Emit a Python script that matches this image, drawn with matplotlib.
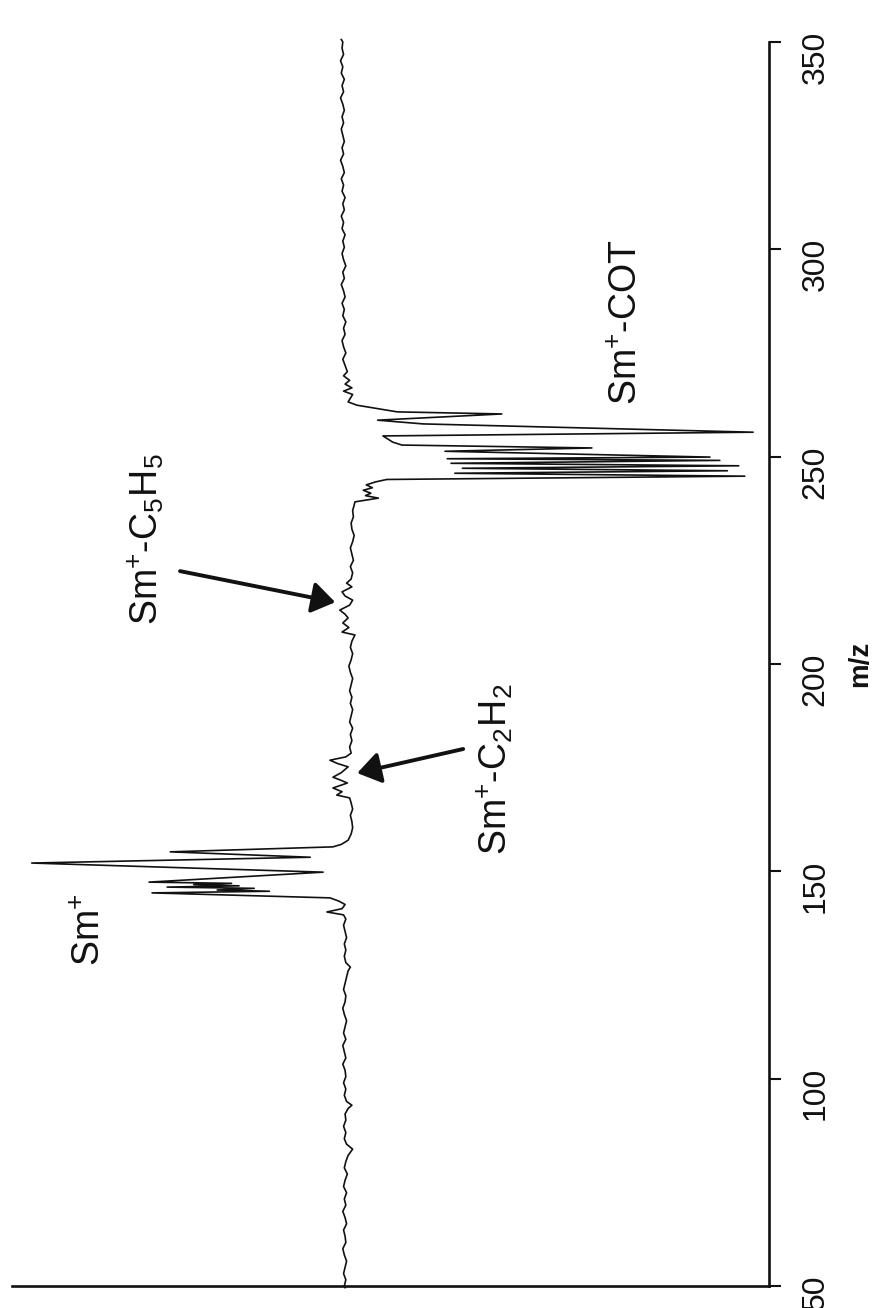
import matplotlib
matplotlib.use("Agg")
import matplotlib.pyplot as plt

plt.rcParams.update({
    "font.family": ["Liberation Sans", "DejaVu Sans"],
    "mathtext.fontset": "custom",
    "mathtext.rm": "Liberation Sans",
    "mathtext.it": "Liberation Sans:italic",
    "mathtext.bf": "Liberation Sans:bold",
})

# spectrum: (m/z, intensity in % of the axis height)
baseline_low = [
    (49.6, 56.0), (50.0, 56.1), (51.5, 55.9), (53.0, 56.2), (54.5, 56.0), (56.0, 55.8),
    (57.5, 56.1), (59.0, 56.3), (60.5, 55.9), (62.0, 56.0), (63.5, 56.2), (65.0, 55.8),
    (66.5, 56.0), (68.0, 56.3), (69.5, 55.9), (71.0, 56.1), (72.5, 55.8), (74.0, 56.2),
    (75.5, 56.0), (77.0, 55.7), (78.5, 56.1), (80.0, 55.9), (81.5, 55.6), (83.0, 55.0),
    (84.2, 55.8), (85.5, 56.1), (87.0, 55.9), (88.5, 56.2), (90.0, 55.9), (91.5, 56.0),
    (92.8, 55.6), (93.6, 55.1), (94.5, 55.8), (96.0, 56.1), (97.5, 55.9), (99.0, 56.2),
    (100.5, 55.9), (102.0, 56.0), (103.5, 56.3), (105.0, 55.9), (106.5, 56.1), (108.0, 56.3),
    (109.5, 55.9), (111.0, 56.2), (112.5, 56.0), (114.0, 55.8), (115.5, 56.1), (117.0, 56.3),
    (118.5, 56.0), (120.0, 55.9), (121.5, 56.2), (123.0, 56.0), (124.5, 55.8), (126.0, 55.6),
    (126.9, 55.3), (128.0, 55.9), (129.5, 56.1), (131.0, 55.9), (132.5, 56.1), (134.0, 55.8),
    (135.5, 56.0), (137.0, 56.2), (138.5, 55.9), (139.5, 56.2), (140.2, 58.4), (141.0, 56.4),
    (142.0, 56.0), (142.8, 56.8), (143.6, 58.0),
]
sm_cluster = [
    (144.8, 81.5), (145.2, 66.0), (145.5, 72.9), (145.9, 68.0), (146.2, 79.5), (146.5, 70.0),
    (146.8, 76.0), (147.1, 71.0), (147.4, 81.9), (149.8, 58.9), (152.0, 97.4), (153.4, 60.6),
    (154.7, 79.1), (155.9, 57.6), (156.5, 56.5),
]
baseline_mid = [
    (157.5, 55.6), (159.0, 55.2), (160.5, 55.0), (162.0, 55.1), (163.5, 55.3), (165.0, 55.0),
    (166.5, 55.2), (167.7, 55.4), (168.4, 57.1), (169.2, 56.4), (170.1, 57.6), (171.3, 55.7),
    (172.0, 56.6), (172.7, 57.6), (173.8, 56.5), (175.2, 55.6), (176.0, 57.0), (176.8, 58.0),
    (177.6, 55.9), (178.5, 55.2), (180.0, 55.4), (181.5, 55.1), (183.0, 55.3), (184.5, 55.0),
    (186.0, 55.4), (187.5, 55.2), (189.0, 55.0), (190.5, 55.3), (192.0, 55.1), (193.5, 55.4),
    (195.0, 55.2), (196.5, 55.0), (198.0, 55.3), (199.5, 55.5), (201.0, 55.2), (202.5, 55.0),
    (204.0, 55.3), (205.5, 55.1), (207.0, 54.7), (207.7, 56.4), (208.8, 55.5), (209.9, 56.3),
    (211.1, 55.6), (212.0, 56.0), (213.0, 56.7), (214.2, 55.4), (215.4, 55.0), (216.4, 56.0),
    (217.4, 56.4), (218.6, 55.1), (219.5, 55.8), (220.5, 55.2), (222.0, 55.0), (223.5, 55.3),
    (225.0, 54.9), (226.5, 55.1), (228.0, 55.3), (229.5, 55.0), (231.0, 54.8), (232.5, 55.1),
    (234.0, 55.2), (235.5, 54.9), (237.0, 55.0), (238.3, 54.8), (239.1, 54.7), (240.0, 51.6),
    (240.6, 53.3), (241.2, 52.6), (241.9, 53.6), (242.5, 52.4), (243.2, 53.2), (243.9, 52.0),
    (244.5, 50.5),
]
cot_cluster = [
    (245.3, 3.2), (246.0, 41.5), (246.6, 5.5), (247.2, 40.5), (247.8, 4.0), (248.4, 42.0),
    (249.1, 6.5), (249.5, 42.5), (249.9, 7.8), (251.3, 42.8), (252.1, 23.4), (252.8, 48.5),
    (253.5, 49.7), (255.0, 51.0), (255.9, 2.1), (257.9, 45.7), (258.8, 51.7), (260.3, 35.3),
    (260.8, 49.1), (262.4, 54.4), (263.2, 55.6), (264.1, 55.3),
]
baseline_high = [
    (265.0, 55.0), (265.8, 56.2), (266.6, 55.1), (267.5, 56.0), (268.4, 55.4), (269.5, 56.2),
    (270.5, 55.7), (272.0, 56.0), (273.5, 56.3), (275.0, 55.9), (276.5, 56.2), (278.0, 56.4),
    (279.5, 56.0), (281.0, 56.2), (282.5, 55.9), (284.0, 56.3), (285.5, 56.1), (287.0, 56.4),
    (288.5, 56.0), (290.0, 56.2), (291.5, 56.5), (293.0, 56.1), (294.5, 56.3), (296.0, 55.9),
    (297.5, 56.2), (299.0, 56.4), (300.5, 56.1), (302.0, 56.3), (303.5, 56.0), (305.0, 56.4),
    (306.5, 56.2), (308.0, 56.5), (309.5, 56.1), (311.0, 56.3), (312.5, 56.0), (314.0, 56.4),
    (315.5, 56.2), (317.0, 56.5), (318.5, 56.1), (320.0, 56.3), (321.5, 56.6), (323.0, 56.2),
    (324.5, 56.4), (326.0, 56.1), (327.5, 56.3), (329.0, 56.5), (330.5, 56.2), (332.0, 56.4),
    (333.5, 56.1), (335.0, 56.3), (336.5, 56.6), (338.0, 56.2), (339.5, 56.4), (341.0, 56.1),
    (342.5, 56.5), (344.0, 56.3), (345.5, 56.6), (347.0, 56.2), (348.5, 56.4), (350.0, 56.3),
    (350.6, 56.5),
]

mz_ticks = [50, 100, 150, 200, 250, 300, 350]

# label text, (intensity, m/z) of the start of the baseline
labels = [
    (r"Sm$^{+}$", (88.4, 127.2)),
    (r"Sm$^{+}$-C$_{5}$H$_{5}$", (80.8, 209.4)),
    (r"Sm$^{+}$-C$_{2}$H$_{2}$", (34.6, 154.0)),
    (r"Sm$^{+}$-COT", (17.4, 262.4)),
]
# arrows: (tail, head) as (intensity, m/z)
arrows = [
    ((77.8, 222.4), (57.3, 214.9)),
    ((40.4, 179.5), (54.4, 173.7)),
]

points = baseline_low + sm_cluster + baseline_mid + cot_cluster + baseline_high
mz = [p[0] for p in points]
signal = [p[1] for p in points]

W, H = 877, 1308
fig = plt.figure(figsize=(W / 100, H / 100), dpi=100)
ax = fig.add_axes([12 / W, (H - 1286) / H, (769 - 12) / W, (1286 - 42) / H])

ax.plot(signal, mz, color="#111111", lw=1.2, clip_on=False)
ax.set_xlim(100, 0)
ax.set_ylim(50, 350)

for side in ["left", "top"]:
    ax.spines[side].set_visible(False)
for side in ["right", "bottom"]:
    ax.spines[side].set_linewidth(1.9)
    ax.spines[side].set_color("#111111")

ax.set_xticks([])
ax.yaxis.tick_right()
ax.set_yticks(mz_ticks)
ax.set_yticklabels([str(t) for t in mz_ticks])
ax.tick_params(axis="y", direction="out", length=8.6, width=1.5, pad=14,
               labelsize=23, labelrotation=90, colors="#111111")

for text, (x, y) in labels:
    ax.text(x, y, text, rotation=90, rotation_mode="anchor", ha="left", va="baseline",
            fontsize=27, color="#111111")

for tail, head in arrows:
    ax.annotate("", xy=head, xytext=tail,
                arrowprops=dict(arrowstyle="-|>,head_length=14,head_width=9.5",
                                mutation_scale=1, lw=2.8, color="#111111",
                                shrinkA=0, shrinkB=0))

fig.text(860 / W, 1 - 664 / H, "m/z", rotation=90, ha="center", va="center",
         fontsize=20, fontweight="bold", color="#111111")

fig.savefig("out.png", dpi=100)
plt.close(fig)
